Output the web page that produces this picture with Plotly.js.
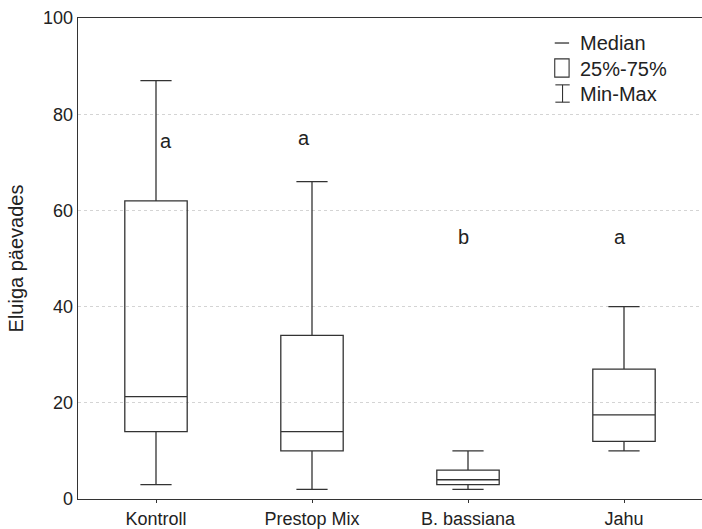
<!DOCTYPE html>
<html><head><meta charset="utf-8">
<script src="https://cdn.plot.ly/plotly-3.0.1.min.js"></script>
<style>html,body{margin:0;padding:0;background:#fff}#chart{width:702px;height:529px}</style>
</head><body><div id="chart"></div>
<script>
const categories = ["Kontroll", "Prestop Mix", "B. bassiana", "Jahu"];
const minVals = [3, 2, 2, 10];
const q1Vals = [14, 10, 3, 12];
const medianVals = [21.3, 14, 4, 17.5];
const q3Vals = [62, 34, 6, 27];
const maxVals = [87, 66, 10, 40];
const letters = ["a", "a", "b", "a"];
const letterY = [74.5, 75, 54.5, 54.5];
const yTicks = [0, 20, 40, 60, 80, 100];

const trace = {
  type: "box",
  x: categories,
  q1: q1Vals,
  median: medianVals,
  q3: q3Vals,
  lowerfence: minVals,
  upperfence: maxVals,
  width: 0.4,
  whiskerwidth: 0.5,
  fillcolor: "rgba(255,255,255,0)",
  line: {color: "#333", width: 1.3},
  boxpoints: false,
  hoverinfo: "skip",
  showlegend: false
};

const font = {family: "Liberation Sans, Arial, sans-serif", color: "#222"};
const letterShift = [10, -8, -5, -4];
const annotations = categories.map((c, i) => ({
  x: c, y: letterY[i], xref: "x", yref: "y", text: letters[i], showarrow: false,
  xshift: letterShift[i],
  font: Object.assign({size: 20}, font)
}));
const legendItems = ["Median", "25%-75%", "Min-Max"];
const legY = [0.948, 0.894, 0.842];
legendItems.forEach((t, i) => annotations.push({
  x: 0.802, y: legY[i], xref: "paper", yref: "paper", text: t, showarrow: false,
  xanchor: "left", yanchor: "middle", font: Object.assign({size: 20}, font)
}));

const shapes = [
  {type: "line", xref: "paper", yref: "paper", x0: 0.764, x1: 0.787, y0: 0.948, y1: 0.948, line: {color: "#333", width: 1.3}},
  {type: "rect", xref: "paper", yref: "paper", x0: 0.764, x1: 0.787, y0: 0.877, y1: 0.915, line: {color: "#333", width: 1.1}},
  {type: "line", xref: "paper", yref: "paper", x0: 0.765, x1: 0.788, y0: 0.861, y1: 0.861, line: {color: "#333", width: 1.1}},
  {type: "line", xref: "paper", yref: "paper", x0: 0.765, x1: 0.788, y0: 0.825, y1: 0.825, line: {color: "#333", width: 1.1}},
  {type: "line", xref: "paper", yref: "paper", x0: 0.7765, x1: 0.7765, y0: 0.825, y1: 0.861, line: {color: "#333", width: 1.1}}
];

const layout = {
  width: 702, height: 529,
  margin: {l: 78, r: 0, t: 18, b: 30},
  paper_bgcolor: "#fff", plot_bgcolor: "#fff",
  font: font,
  xaxis: {
    type: "category", range: [-0.5, 3.5],
    showline: true, linecolor: "#333", linewidth: 1.3, mirror: true,
    ticks: "outside", ticklen: 3, tickcolor: "#333",
    tickfont: Object.assign({size: 18}, font), showgrid: false, zeroline: false
  },
  yaxis: {
    range: [0, 100], tickvals: yTicks,
    showline: true, linecolor: "#333", linewidth: 1.3,
    showgrid: true, gridcolor: "#d4d4d4", griddash: "dot", gridwidth: 1,
    ticks: "", tickfont: Object.assign({size: 18}, font), zeroline: false,
    title: {text: "Eluiga päevades", font: Object.assign({size: 20}, font), standoff: 14}
  },
  annotations: annotations,
  shapes: shapes,
  showlegend: false
};
Plotly.newPlot("chart", [trace], layout, {displayModeBar: false, staticPlot: true});
</script></body></html>
